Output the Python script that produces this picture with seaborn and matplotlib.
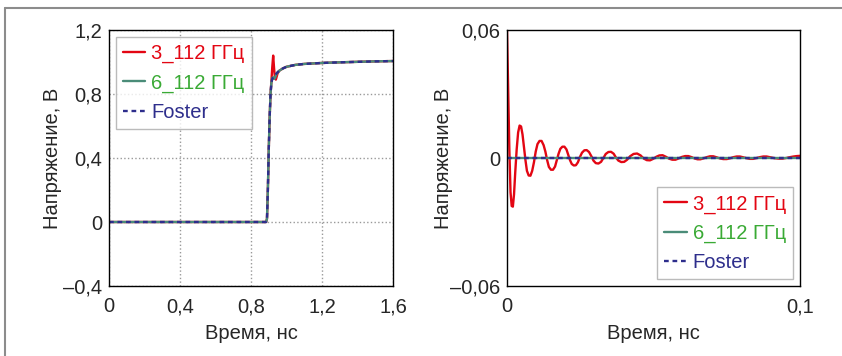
import pandas as pd
import matplotlib.pyplot as plt
import seaborn as sns
from matplotlib.lines import Line2D

# left panel: step response
t_left = [0, 0.5, 0.885, 0.89, 0.895, 0.90, 0.905, 0.91, 0.915, 0.92, 0.925, 0.93, 0.935,
          0.94, 0.945, 0.95, 0.96, 0.98, 1.0, 1.05, 1.1, 1.2, 1.3, 1.4, 1.5, 1.6]
v_red_left = [0, 0, 0, 0.02, 0.2, 0.45, 0.65, 0.80, 0.88, 0.97, 1.04, 0.96, 0.90,
              0.89, 0.91, 0.93, 0.946, 0.960, 0.970, 0.982, 0.988, 0.994, 0.998, 1.001, 1.004, 1.006]
v_green_left = [0, 0, 0, 0.02, 0.2, 0.45, 0.65, 0.80, 0.87, 0.90, 0.905, 0.895, 0.90,
                0.915, 0.927, 0.936, 0.946, 0.960, 0.970, 0.982, 0.988, 0.994, 0.998, 1.001, 1.004, 1.006]
v_foster_left = [0, 0, 0, 0.02, 0.2, 0.45, 0.65, 0.80, 0.87, 0.895, 0.905, 0.912, 0.918,
                 0.924, 0.930, 0.936, 0.946, 0.960, 0.970, 0.982, 0.988, 0.994, 0.998, 1.001, 1.004, 1.006]

# right panel: zoom on the start
t_right = [0.0000, 0.0004, 0.0008, 0.0012, 0.0016, 0.0020, 0.0024, 0.0028, 0.0033, 0.0038,
           0.0043, 0.0048, 0.0053, 0.0058, 0.0063, 0.0068, 0.0074, 0.0080, 0.0086, 0.0092,
           0.0098, 0.0104, 0.0111, 0.0118, 0.0125, 0.0131, 0.0137, 0.0143, 0.0150, 0.0157,
           0.0164, 0.0170, 0.0176, 0.0182, 0.0189, 0.0196, 0.0203, 0.0209, 0.0215, 0.0221,
           0.0228, 0.0235, 0.0242, 0.0249, 0.0256, 0.0264, 0.0272, 0.0280, 0.0288, 0.0295,
           0.0303, 0.0312, 0.0321, 0.0329, 0.0337, 0.0346, 0.0355, 0.0364, 0.0372, 0.0380,
           0.0390, 0.0400, 0.0410, 0.0420, 0.0432, 0.0444, 0.0456, 0.0466, 0.0477, 0.0488,
           0.0499, 0.0510, 0.0520, 0.0531, 0.0542, 0.0553, 0.0564, 0.0575, 0.0586, 0.0597,
           0.0608, 0.0619, 0.0630, 0.0640, 0.0650, 0.0660, 0.0670, 0.0682, 0.0693, 0.0704,
           0.0716, 0.0727, 0.0738, 0.0750, 0.0762, 0.0773, 0.0784, 0.0795, 0.0807, 0.0818,
           0.0829, 0.0840, 0.0852, 0.0863, 0.0875, 0.0886, 0.0900, 0.0913, 0.0927, 0.0940,
           0.0953, 0.0966, 0.0978, 0.0989, 0.1000]
v_red_right = [0.060, 0.032, 0.004, -0.016, -0.0225, -0.0228, -0.017, -0.007, 0.004, 0.012,
               0.0152, 0.0148, 0.011, 0.005, -0.001, -0.006, -0.0082, -0.0083, -0.006, -0.002,
               0.003, 0.0065, 0.0080, 0.0080, 0.006, 0.003, -0.001, -0.0042, -0.0055, -0.0055,
               -0.0040, -0.001, 0.002, 0.0043, 0.0053, 0.0053, 0.0040, 0.0015, -0.001, -0.0028,
               -0.0035, -0.0034, -0.002, 0.0005, 0.0025, 0.0036, 0.0037, 0.0028, 0.0008, -0.0012,
               -0.0024, -0.0026, -0.0018, 0.0, 0.0019, 0.0028, 0.0029, 0.002, 0.0002, -0.0012,
               -0.0019, -0.0018, -0.0008, 0.0008, 0.0019, 0.0021, 0.0012, -0.0002, -0.0010, -0.0011,
               -0.0004, 0.0006, 0.0012, 0.0013, 0.0006, -0.0003, -0.0008, -0.0008, -0.0002, 0.0005,
               0.0009, 0.0009, 0.0004, -0.0002, -0.0006, -0.0006, -0.0002, 0.0004, 0.0008, 0.0008,
               0.0003, -0.0002, -0.0005, -0.0005, -0.0001, 0.0004, 0.0007, 0.0007, 0.0003, -0.0001,
               -0.0004, -0.0004, 0.0, 0.0004, 0.0007, 0.0007, 0.0003, -0.0001, -0.0003, -0.0003,
               0.0, 0.0004, 0.0007, 0.0009, 0.0010]
t_flat = [0.0, 0.1]
v_green_right = [0.0, 0.0]
v_foster_right = [0.0, 0.0]

labels = ['3_112 ГГц', '6_112 ГГц', 'Foster']
line_colors = ['#e30613', '#4a8c78', '#2e2e8c']
text_colors = ['#e30613', '#3aaa35', '#2e2e8c']

left_xticks = [0, 0.4, 0.8, 1.2, 1.6]
left_xlabels = ['0', '0,4', '0,8', '1,2', '1,6']
left_yticks = [-0.4, 0, 0.4, 0.8, 1.2]
left_ylabels = ['–0,4', '0', '0,4', '0,8', '1,2']
right_xticks = [0, 0.1]
right_xlabels = ['0', '0,1']
right_yticks = [-0.06, 0, 0.06]
right_ylabels = ['–0,06', '0', '0,06']

sns.set_style('white')
plt.rcParams['font.family'] = ['Liberation Sans', 'DejaVu Sans']
fs = 14.5

W, H = 842, 356
fig = plt.figure(figsize=(W / 100, H / 100), dpi=100)
ax1 = fig.add_axes([109 / W, 1 - 286 / H, 284 / W, 256 / H])
ax2 = fig.add_axes([507 / W, 1 - 286 / H, 293 / W, 256 / H])

lw = 1.7
sns.lineplot(x=t_left, y=v_red_left, ax=ax1, color=line_colors[0], lw=lw, label=labels[0])
sns.lineplot(x=t_left, y=v_green_left, ax=ax1, color=line_colors[1], lw=lw, label=labels[1])
sns.lineplot(x=t_left, y=v_foster_left, ax=ax1, color=line_colors[2], lw=lw,
             linestyle=(0, (2, 1.6)), label=labels[2])

sns.lineplot(x=t_right, y=v_red_right, ax=ax2, color=line_colors[0], lw=lw, label=labels[0])
sns.lineplot(x=t_flat, y=v_green_right, ax=ax2, color=line_colors[1], lw=lw, label=labels[1])
sns.lineplot(x=t_flat, y=v_foster_right, ax=ax2, color=line_colors[2], lw=lw,
             linestyle=(0, (2, 1.6)), label=labels[2])

ax1.set_xlim(0, 1.6)
ax1.set_ylim(-0.4, 1.2)
ax1.set_xticks(left_xticks, left_xlabels)
ax1.set_yticks(left_yticks, left_ylabels)
ax1.grid(True, ls=':', color='#999999', lw=1)

ax2.set_xlim(0, 0.1)
ax2.set_ylim(-0.06, 0.06)
ax2.set_xticks(right_xticks, right_xlabels)
ax2.set_yticks(right_yticks, right_ylabels)
ax2.grid(False)

for ax, xc, loc in [(ax1, -0.165, 'upper left'), (ax2, -0.184, 'lower right')]:
    for s in ax.spines.values():
        s.set_color('black')
        s.set_linewidth(1)
    ax.tick_params(axis='x', length=0, pad=8, labelsize=fs)
    ax.tick_params(axis='y', length=0, pad=5, labelsize=fs)
    ax.set_xlabel('Время, нс', fontsize=fs)
    ax.set_ylabel('Напряжение, В', fontsize=fs)
    ax.yaxis.set_label_coords(xc, 0.5)
    ax.xaxis.set_label_coords(0.5, -0.15)
    leg = ax.legend(loc=loc, frameon=True, fancybox=False, fontsize=fs,
                    handlelength=1.1, handletextpad=0.3, borderaxespad=0.35,
                    labelspacing=0.5, borderpad=0.35)
    leg.get_frame().set_edgecolor('#aaaaaa')
    leg.get_frame().set_linewidth(1)
    for txt, c in zip(leg.get_texts(), text_colors):
        txt.set_color(c)

# outer frame lines
fig.add_artist(Line2D([5 / W, 5 / W], [0, 1 - 8 / H], color='#8c8c8c', lw=1.5))
fig.add_artist(Line2D([5 / W, 1], [1 - 8 / H, 1 - 8 / H], color='#8c8c8c', lw=1.5))

plt.savefig('out.png', dpi=100)
plt.close()
